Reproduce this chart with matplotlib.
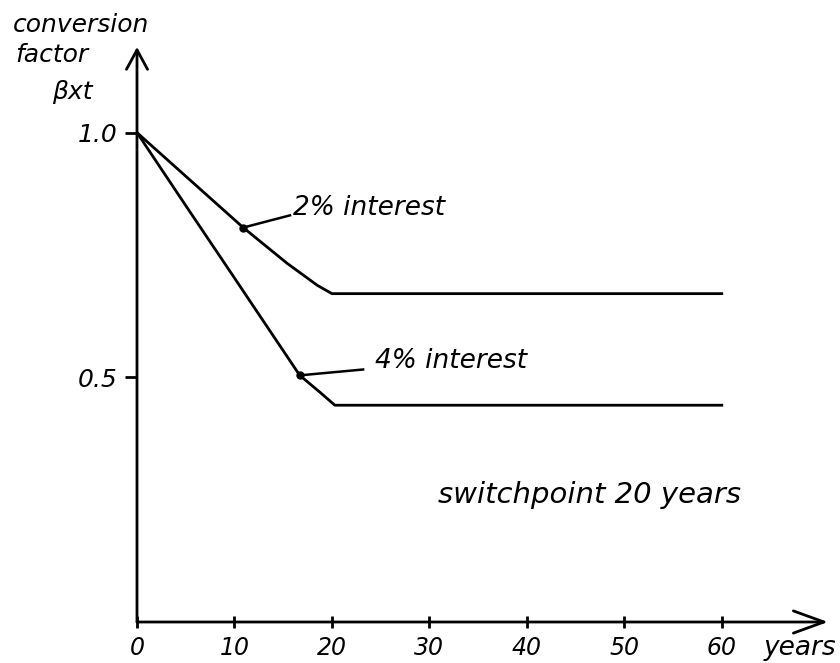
import matplotlib
matplotlib.use("Agg")
import matplotlib.pyplot as plt

# ---- data ----
years_2pct = [0, 5, 10.9, 15.4, 18.5, 20, 60]
beta_2pct = [1.0, 0.911, 0.806, 0.733, 0.688, 0.671, 0.671]

years_4pct = [0, 5, 10, 16.7, 18.8, 20.3, 60]
beta_4pct = [1.0, 0.851, 0.703, 0.504, 0.469, 0.443, 0.443]

x_ticks = [0, 10, 20, 30, 40, 50, 60]
x_tick_labels = ["0", "10", "20", "30", "40", "50", "60"]
y_ticks = [0.5, 1.0]
y_tick_labels = ["0.5", "1.0"]

label_2pct = "2% interest"
label_4pct = "4% interest"
note_text = "switchpoint 20 years"

# points on the curves where the label leaders attach
leader_2pct_from = (10.9, 0.806)
leader_2pct_to = (15.7, 0.831)
leader_4pct_from = (16.7, 0.504)
leader_4pct_to = (23.2, 0.516)

FAM = ["DejaVu Sans"]
ST = "italic"
LW = 2.0

W, H = 840, 663
fig = plt.figure(figsize=(W / 100, H / 100), dpi=100)
fig.patch.set_facecolor("white")

x_max = 70.9
y_max = 1.175
left_px, right_px = 137, 828
bottom_px, top_px = 622, 47
ax = fig.add_axes([left_px / W, 1 - bottom_px / H,
                   (right_px - left_px) / W, (bottom_px - top_px) / H])
ax.set_xlim(0, x_max)
ax.set_ylim(0, y_max)
for s in ax.spines.values():
    s.set_visible(False)

# curves
ax.plot(years_2pct, beta_2pct, color="black", lw=LW, solid_joinstyle="round")
ax.plot(years_4pct, beta_4pct, color="black", lw=LW, solid_joinstyle="round")

# leader dots and lines
for a, b in [(leader_2pct_from, leader_2pct_to), (leader_4pct_from, leader_4pct_to)]:
    ax.plot([a[0], b[0]], [a[1], b[1]], color="black", lw=1.8)
    ax.plot([a[0]], [a[1]], "o", color="black", ms=5)

ax.text(16.0, 0.831, label_2pct, family=FAM, style=ST, fontsize=19,
        ha="left", va="baseline")
ax.text(24.4, 0.520, label_4pct, family=FAM, style=ST, fontsize=19,
        ha="left", va="baseline")
ax.text(30.9, 0.243, note_text, family=FAM, style=ST, fontsize=21,
        ha="left", va="baseline")

# axes with arrow heads
ax.annotate("", xy=(x_max, 0), xytext=(0, 0), annotation_clip=False,
            arrowprops=dict(arrowstyle="->,head_length=1.1,head_width=0.4",
                            mutation_scale=20, lw=LW, color="black",
                            shrinkA=0, shrinkB=0))
ax.annotate("", xy=(0, y_max), xytext=(0, 0), annotation_clip=False,
            arrowprops=dict(arrowstyle="->,head_length=0.7,head_width=0.38",
                            mutation_scale=20, lw=LW, color="black",
                            shrinkA=0, shrinkB=0))

ax.set_xticks(x_ticks)
ax.set_xticklabels(x_tick_labels, family=FAM, style=ST, fontsize=17)
ax.set_yticks(y_ticks)
ax.set_yticklabels(y_tick_labels, family=FAM, style=ST, fontsize=18)
ax.tick_params(axis="x", direction="inout", length=8, width=2, pad=6)
ax.tick_params(axis="y", direction="out", length=9, width=2, pad=5)

ax.text(68.0, -0.053, "years", family=FAM, style=ST, fontsize=19,
        ha="center", va="center", clip_on=False)

# y-axis title (upper left)
fig.text(13 / W, 1 - 32 / H, "conversion", family=FAM, style=ST, fontsize=18,
         ha="left", va="baseline")
fig.text(15 / W, 1 - 62 / H, "factor", family=FAM, style=ST, fontsize=18,
         ha="left", va="baseline")
fig.text(52 / W, 1 - 99 / H, "βxt", family=FAM, style=ST, fontsize=18,
         ha="left", va="baseline")

fig.savefig("out.png", dpi=100, facecolor="white")
